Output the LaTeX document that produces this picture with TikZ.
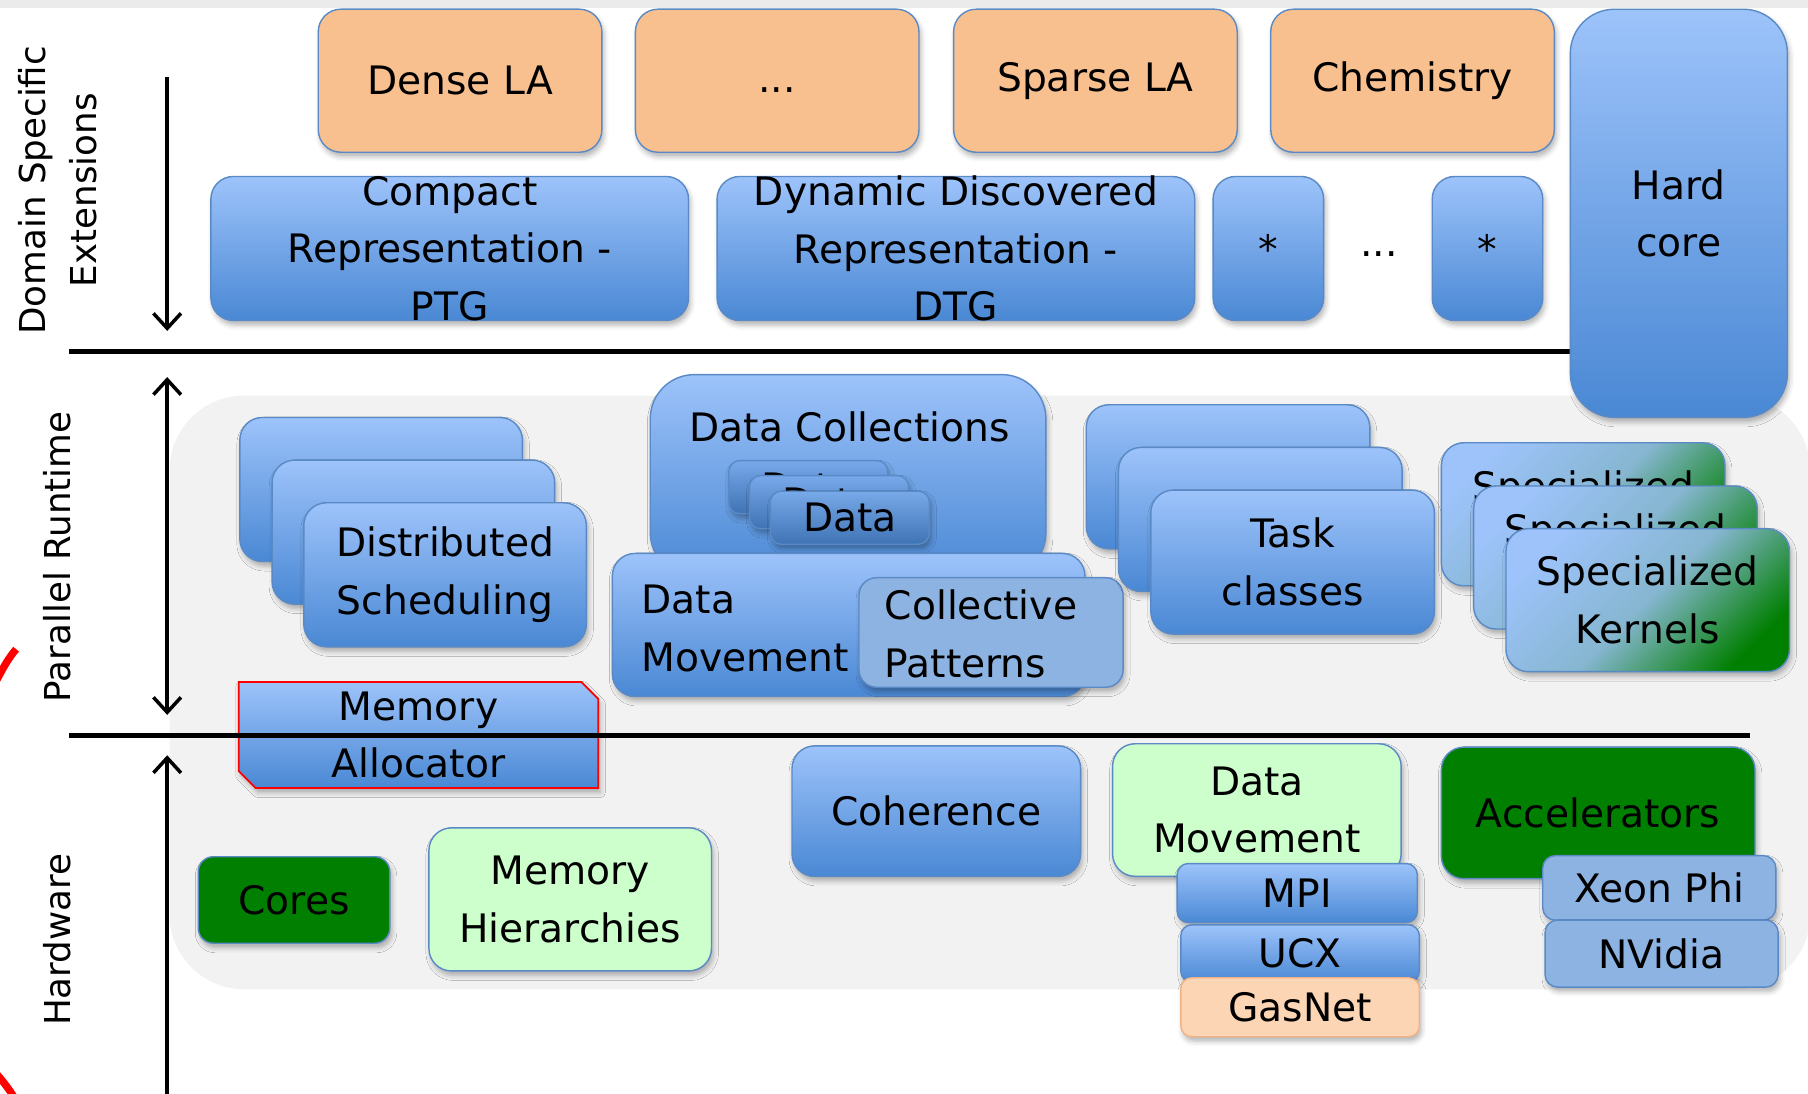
\documentclass[tikz,border=0pt]{standalone}
\usepackage{fontspec}
\setmainfont{DejaVu Sans}
\usepackage{xcolor}
\usepackage{tikz}
\usetikzlibrary{positioning, shapes.misc, shadows.blur, arrows.meta}
\definecolor{bluetop}{HTML}{9DC3FA}
\definecolor{bluebot}{HTML}{4A88D4}
\definecolor{boxline}{HTML}{5A8AC6}
\definecolor{peach}{HTML}{F9C08F}
\definecolor{lightpeach}{HTML}{FCD5B5}
\definecolor{peachline}{HTML}{F4B283}
\definecolor{palegreen}{HTML}{CCFFCC}
\definecolor{darkgreen}{HTML}{007F00}
\definecolor{steel}{HTML}{8DB3E2}
\definecolor{teal}{HTML}{86B6D0}
\definecolor{bggray}{HTML}{F2F2F2}
\newcommand{\boxfont}{\fontsize{22.3}{32.8}\selectfont}
\newcommand{\sidefont}{\fontsize{20.3}{28.5}\selectfont}

\begin{document}
\begin{tikzpicture}[x=0.02306cm, y=-0.02306cm, every node/.style={font=\boxfont, text=black, inner sep=0pt}, >={Straight Barb[length=0.3cm,width=0.55cm]}]
	\tikzstyle{sh}=[blur shadow={shadow xshift=0.04cm, shadow yshift=-0.09cm, shadow blur radius=0.1cm, shadow opacity=30}]
	\tikzstyle{bluebox}=[draw=boxline, line width=0.8pt, rounded corners=0.45cm, top color=bluetop, bottom color=bluebot, sh, align=center]
	\tikzstyle{orangebox}=[draw=boxline, line width=0.8pt, rounded corners=0.45cm, fill=peach, sh, align=center]
	\tikzstyle{greenbox}=[draw=boxline, line width=0.8pt, rounded corners=0.3cm, fill=darkgreen, sh, align=center]
	\tikzstyle{palebox}=[draw=boxline, line width=0.8pt, rounded corners=0.45cm, fill=palegreen, sh, align=center]
	\tikzstyle{steelbox}=[draw=boxline, line width=0.8pt, rounded corners=0.25cm, fill=steel, sh, align=center]
	\tikzstyle{kernbox}=[draw=boxline, line width=0.8pt, rounded corners=0.45cm, top color=bluetop, bottom color=darkgreen, middle color=teal, shading angle=45, sh, align=center]
	\tikzstyle{sidelbl}=[font=\sidefont, rotate=90, align=center]
	\tikzstyle{layerline}=[line width=0.11cm]
	\tikzstyle{layerarrow}=[line width=0.07cm]

	\useasboundingbox (0,0) rectangle (1568,948);
	\fill[black!8] (0,0) rectangle (1568,7);

	%% runtime / hardware background
	\fill[bggray, rounded corners=1.5cm] (147,343) rectangle (1570,858);

	%% layer separators and arrows
	\coordinate (sep1l) at (60,305);
	\coordinate (sep1r) at (1362,305);
	\coordinate (sep2l) at (60,638);
	\coordinate (sep2r) at (1518,638);
	\coordinate (dstop) at (145,67);
	\coordinate (dsbot) at (145,287);
	\coordinate (prtop) at (145,327);
	\coordinate (prbot) at (145,620);
	\coordinate (hwtop) at (145,655);
	\coordinate (hwbot) at (145,960);
	\draw[layerline] (sep1l) -- (sep1r);
	\draw[layerarrow, ->] (dstop) -- (dsbot);
	\draw[layerarrow, <->] (prtop) -- (prbot);
	\draw[layerarrow, ->] (hwbot) -- (hwtop);

	\node[sidelbl] (dslbl) at (50,165) {Domain Specific\\Extensions};
	\node[sidelbl] (prlbl) at (50,483) {Parallel Runtime};
	\node[sidelbl] (hwlbl) at (50,815) {Hardware};

	%% domain specific extensions
	\node[orangebox, minimum width=5.67cm, minimum height=2.86cm] (dense) at (399,70) {Dense LA};
	\node[orangebox, minimum width=5.67cm, minimum height=2.86cm] (odots) at (674,70) {\raisebox{-0.15cm}{\strut...}};
	\node[orangebox, minimum width=5.67cm, minimum height=2.86cm] (sparse) at (950,70) {Sparse LA};
	\node[orangebox, minimum width=5.67cm, minimum height=2.86cm] (chem) at (1225,70) {Chemistry};

	\node[bluebox, minimum width=9.55cm, minimum height=2.88cm] (ptg) at (390,215.5) {};
	\node[align=center] (ptgtxt) at (ptg) {Compact\\Representation -\\PTG};
	\node[bluebox, minimum width=9.55cm, minimum height=2.88cm] (dtg) at (829,215.5) {};
	\node[align=center] (dtgtxt) at (dtg) {Dynamic Discovered\\Representation -\\DTG};
	\node[bluebox, minimum width=2.21cm, minimum height=2.88cm] (stara) at (1100,215.5) {*};
	\node (sdots) at (1196,220) {...};
	\node[bluebox, minimum width=2.21cm, minimum height=2.88cm] (starb) at (1290,215.5) {*};

	\node[bluebox, rounded corners=0.88cm, minimum width=4.34cm, minimum height=8.16cm] (hard) at (1456,185) {Hard\\core};

	%% parallel runtime
	\node[bluebox, minimum width=5.65cm, minimum height=2.88cm] (sched1) at (330.5,424.5) {};
	\node[bluebox, minimum width=5.65cm, minimum height=2.88cm] (sched2) at (358.5,461.5) {};
	\node[bluebox, minimum width=5.65cm, minimum height=2.88cm] (sched3) at (386,498.5) {Distributed\\Scheduling};

	\node[bluebox, rounded corners=0.88cm, minimum width=7.91cm, minimum height=4.04cm] (coll) at (735.5,412.5) {};
	\node (colltxt) at (737,370) {Data Collections};
	\tikzstyle{databox}=[draw=boxline, line width=0.8pt, rounded corners=0.22cm, top color=bluetop!55!bluebot, bottom color=bluebot!85!black, sh, minimum width=3.18cm, minimum height=1.06cm]
	\node[databox] (data1) at (701,422.5) {Data};
	\node[databox] (data2) at (719,435.5) {Data};
	\node[databox] (data3) at (737,449) {Data};

	\node[bluebox, minimum width=9.45cm, minimum height=2.86cm] (move) at (736,542) {};
	\node[anchor=west, align=left] (movetxt) at (556,545) {Data\\Movement};
	\node[steelbox, rounded corners=0.35cm, minimum width=5.28cm, minimum height=2.19cm] (collect) at (859.5,548.5) {};
	\node[anchor=west, align=left] (collecttxt) at (767,550) {Collective\\Patterns};

	\node[bluebox, minimum width=5.67cm, minimum height=2.88cm] (task1) at (1065,413.5) {};
	\node[bluebox, minimum width=5.67cm, minimum height=2.88cm] (task2) at (1093,450.5) {};
	\node[bluebox, minimum width=5.67cm, minimum height=2.88cm] (task3) at (1121,487.5) {Task\\classes};

	\node[kernbox, minimum width=5.67cm, minimum height=2.86cm] (kern1) at (1373,446) {Specialized\\Kernels};
	\node[kernbox, minimum width=5.67cm, minimum height=2.86cm] (kern2) at (1401,483.5) {Specialized\\Kernels};
	\node[kernbox, minimum width=5.67cm, minimum height=2.86cm] (kern3) at (1429,520.5) {Specialized\\Kernels};

	\node[draw=red, line width=1pt, chamfered rectangle, chamfered rectangle corners={north east, south west}, chamfered rectangle xsep=0.17cm, chamfered rectangle ysep=0.17cm, top color=bluetop, bottom color=bluebot, sh, align=center, minimum width=7.19cm, minimum height=2.12cm] (alloc) at (363,637.5) {Memory\\Allocator};

	\draw[layerline] (sep2l) -- (sep2r);

	%% hardware
	\node[greenbox, minimum width=3.83cm, minimum height=1.73cm] (cores) at (255,780.5) {Cores};
	\node[palebox, minimum width=5.65cm, minimum height=2.86cm] (memh) at (494.5,780) {Memory\\Hierarchies};
	\node[bluebox, minimum width=5.77cm, minimum height=2.61cm] (coh) at (812,703.5) {Coherence};
	\node[palebox, minimum width=5.77cm, minimum height=2.65cm] (hwmove) at (1090,702.5) {Data\\Movement};
	\node[bluebox, rounded corners=0.22cm, minimum width=4.80cm, minimum height=1.18cm] (mpi) at (1125,774.5) {MPI};
	\node[bluebox, rounded corners=0.22cm, minimum width=4.77cm, minimum height=1.15cm] (ucx) at (1127.5,827) {UCX};
	\node[draw=peachline, line width=0.8pt, rounded corners=0.22cm, fill=lightpeach, sh, minimum width=4.77cm, minimum height=1.18cm] (gasnet) at (1127.5,873.5) {GasNet};
	\node[greenbox, rounded corners=0.45cm, minimum width=6.27cm, minimum height=2.63cm] (accel) at (1386,705) {Accelerators};
	\node[steelbox, minimum width=4.66cm, minimum height=1.29cm] (xeon) at (1439,770) {Xeon Phi};
	\node[steelbox, minimum width=4.66cm, minimum height=1.34cm] (nvidia) at (1441,827) {NVidia};

	%% red marks at the left edge
	\draw[red, line width=0.15cm] (14,563) .. controls (8,570) and (3,578) .. (-6,596);
	\draw[red, line width=0.15cm] (-6,928) .. controls (2,937) and (8,944) .. (16,958);
\end{tikzpicture}
\end{document}
